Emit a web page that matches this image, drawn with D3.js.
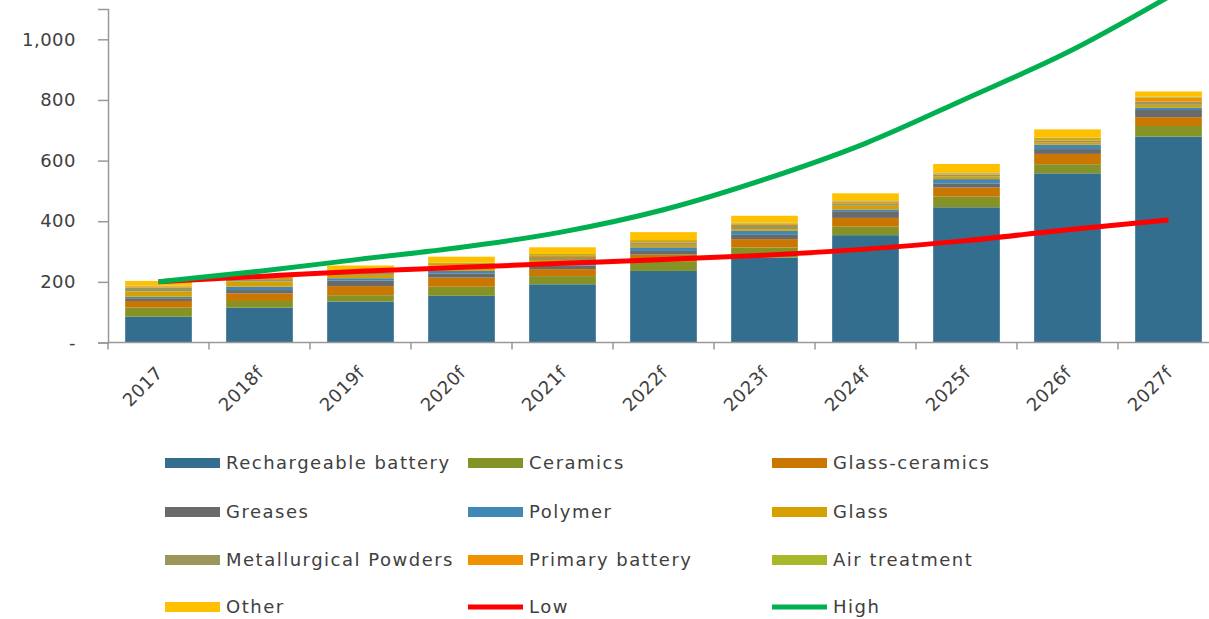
<!DOCTYPE html>
<html>
<head>
<meta charset="utf-8">
<style>
body{margin:0;background:#fff;}
text{font-family:"DejaVu Sans",Verdana,sans-serif;fill:#404040;}
</style>
</head>
<body>
<svg id="svg"></svg>
<script src="https://cdnjs.cloudflare.com/ajax/libs/d3/7.8.5/d3.min.js"></script>
<script>
// data
var years = ["2017","2018f","2019f","2020f","2021f","2022f","2023f","2024f","2025f","2026f","2027f"]
var rechargeable = [85,115,135,154,192,236,280,354,446,558,679]
var ceramics = [30,22,21,30,27,30,33,28,35,30,35]
var glassCeramics = [22,25,30,30,23,24,28,29,30,34,29]
var greases = [9,11,18,14,12,12,14,22,14,16,24]
var polymer = [5,11,8,8,8,12,13,6,14,14,8]
var glass = [17,17,11,10,10,8,6,12,8,7,9]
var metallurgical = [13,8,8,8,10,8,14,8,7,7,11]
var primary = [4,4,5,5,6,5,4,6,4,5,13]
var airTreatment = [3,3,3,4,4,3,3,4,3,5,3]
var other = [15,7,15,20,22,26,23,23,28,27,17]
var low = [200,218,235,248,261,274,288,308,336,372,404]
var high = [200,235,275,314,365,438,538,657,805,957,1140]
var yTicks = [0,200,400,600,800,1000]

var series = [
  {name:"Rechargeable battery", values:rechargeable, color:"#346e8e"},
  {name:"Ceramics", values:ceramics, color:"#849226"},
  {name:"Glass-ceramics", values:glassCeramics, color:"#c97700"},
  {name:"Greases", values:greases, color:"#6a6a6a"},
  {name:"Polymer", values:polymer, color:"#4088b6"},
  {name:"Glass", values:glass, color:"#d6a100"},
  {name:"Metallurgical Powders", values:metallurgical, color:"#9a965c"},
  {name:"Primary battery", values:primary, color:"#f29100"},
  {name:"Air treatment", values:airTreatment, color:"#a7b82a"},
  {name:"Other", values:other, color:"#ffc000"}
]
var lines = [
  {name:"Low", values:low, color:"#ff0000"},
  {name:"High", values:high, color:"#00b050"}
]

var W = 1209, H = 619
var svg = d3.select('#svg').attr('width',W).attr('height',H)

var x = d3.scaleBand().domain(years).range([108,1219]).paddingInner(0.34).paddingOuter(0.17)
var y = d3.scaleLinear().domain([0,1100]).range([342.5,9])

// stacked bars
var rows = years.map(function(yr,i){
  var r = {year:yr}
  series.forEach(function(s){ r[s.name] = s.values[i] })
  return r
})
var stack = d3.stack().keys(series.map(s=>s.name))(rows)

svg.append('g').selectAll('g')
  .data(stack).enter().append('g')
  .attr('fill', (d,i) => series[i].color)
  .selectAll('rect')
  .data(d => d).enter().append('rect')
  .attr('x', d => x(d.data.year))
  .attr('width', x.bandwidth())
  .attr('y', d => y(d[1]))
  .attr('height', d => y(d[0]) - y(d[1]))

// axes
var yAxis = d3.axisLeft(y).tickValues(yTicks).tickSize(10).tickPadding(22)
  .tickFormat(d => d === 0 ? "-" : d3.format(",")(d))
var gy = svg.append('g').attr('transform','translate(108,0)').call(yAxis)
gy.select('.domain').attr('stroke','#999').attr('stroke-width',1.5)
gy.selectAll('.tick line').attr('stroke','#999').attr('stroke-width',1.5)
gy.selectAll('text').style('font-size','18px').style('letter-spacing','0.5px').attr('fill','#404040')

var gx = svg.append('g').attr('transform','translate(0,342.5)')
gx.append('line').attr('x1',108).attr('x2',W).attr('y1',0).attr('y2',0)
  .attr('stroke','#999').attr('stroke-width',1.5)
var step = x.step()
gx.selectAll('line.tk').data(years).enter().append('line').attr('class','tk')
  .attr('x1', d => x(d) - x.paddingInner()*step/2).attr('x2', d => x(d) - x.paddingInner()*step/2)
  .attr('y1',0).attr('y2',7).attr('stroke','#999').attr('stroke-width',1.5)
gx.selectAll('text').data(years).enter().append('text')
  .attr('transform', d => 'translate(' + (x(d) + x.bandwidth()/2 + 1) + ',27) rotate(-45)')
  .attr('text-anchor','end')
  .attr('dy','0.35em')
  .style('font-size','18px').style('letter-spacing','0.5px')
  .text(d => d)

// lines
var line = d3.line()
  .x((d,i) => x(years[i]) + x.bandwidth()/2)
  .y(d => y(d))
  .curve(d3.curveMonotoneX)
svg.append('g').selectAll('path').data(lines).enter().append('path')
  .attr('d', d => line(d.values))
  .attr('fill','none').attr('stroke', d => d.color).attr('stroke-width',5)

// legend
var legendItems = series.concat(lines)
var colX = [165,468,772], rowY = [463,512,560,607]
var lg = svg.append('g').selectAll('g').data(legendItems).enter().append('g')
  .attr('transform', (d,i) => 'translate(' + colX[i%3] + ',' + rowY[Math.floor(i/3)] + ')')
lg.append('rect')
  .attr('x',0).attr('width',55)
  .attr('y', d => lines.indexOf(d) >= 0 ? -2.5 : -5)
  .attr('height', d => lines.indexOf(d) >= 0 ? 5 : 10)
  .attr('fill', d => d.color)
lg.append('text').attr('x',61).attr('dy','0.35em')
  .style('font-size','18px').style('letter-spacing','1.5px')
  .text(d => d.name)
</script>
</body>
</html>
